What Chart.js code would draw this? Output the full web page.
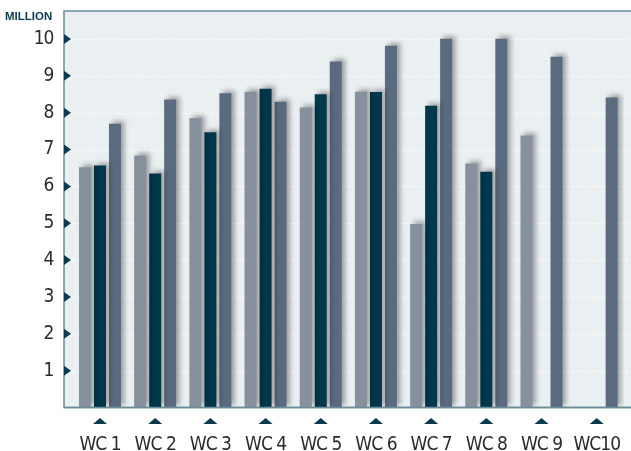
<!DOCTYPE html>
<html>
<head>
<meta charset="utf-8">
<script src="https://cdn.jsdelivr.net/npm/chart.js@4.4.1/dist/chart.umd.min.js"></script>
<style>
  html, body { margin: 0; padding: 0; background: #ffffff; }
  #c { display: block; }
</style>
</head>
<body>
<canvas id="c" width="631" height="451"></canvas>
<script>
const categories = ['WC 1', 'WC 2', 'WC 3', 'WC 4', 'WC 5', 'WC 6', 'WC 7', 'WC 8', 'WC 9', 'WC10'];
const seriesLight = [6.52, 6.84, 7.85, 8.57, 8.14, 8.57, 4.98, 6.62, 7.38, null];
const seriesDark  = [6.57, 6.35, 7.47, 8.65, 8.50, 8.56, 8.19, 6.40, null, null];
const seriesSlate = [7.70, 8.36, 8.53, 8.30, 9.39, 9.82, 10.01, 10.01, 9.52, 8.41];
const yTickValues = [1, 2, 3, 4, 5, 6, 7, 8, 9, 10];
const unitLabel = 'MILLION';

const MARK = '#0b3a4f';
const FRAME = '#6a8c98';
const PANEL = { left: 64, right: 631 };
const TEXT_SPACING = '-1px';

const decor = {
  id: 'decor',
  beforeDraw(chart) {
    chart.ctx.letterSpacing = TEXT_SPACING;
  },
  beforeDatasetsDraw(chart) {
    const ctx = chart.ctx, ca = chart.chartArea, y = chart.scales.y;
    ctx.save();
    ctx.fillStyle = '#eaeff2';
    ctx.fillRect(PANEL.left, ca.top, PANEL.right - PANEL.left, ca.bottom - ca.top);
    ctx.strokeStyle = 'rgba(255,255,255,0.95)';
    ctx.lineWidth = 1.5;
    ctx.setLineDash([1.5, 1.8]);
    y.ticks.forEach((t, i) => {
      const py = Math.round(y.getPixelForTick(i)) + 0.5;
      ctx.beginPath();
      ctx.moveTo(PANEL.left + 7, py);
      ctx.lineTo(PANEL.right - 4, py);
      ctx.stroke();
    });
    ctx.setLineDash([]);
    ctx.strokeStyle = FRAME;
    ctx.lineWidth = 1.5;
    ctx.beginPath();
    ctx.moveTo(PANEL.right, ca.top);
    ctx.lineTo(PANEL.left, ca.top);
    ctx.lineTo(PANEL.left, ca.bottom);
    ctx.lineTo(PANEL.right, ca.bottom);
    ctx.stroke();
    ctx.restore();
    ctx.save();
    ctx.shadowColor = 'rgba(0,0,0,0.33)';
    ctx.shadowBlur = 5;
    ctx.shadowOffsetX = 3.5;
    ctx.shadowOffsetY = -2.5;
  },
  afterDatasetsDraw(chart) {
    const ctx = chart.ctx, ca = chart.chartArea, y = chart.scales.y, x = chart.scales.x;
    ctx.restore();
    ctx.save();
    ctx.strokeStyle = FRAME;
    ctx.lineWidth = 1.5;
    ctx.beginPath();
    ctx.moveTo(PANEL.left, ca.bottom);
    ctx.lineTo(PANEL.right, ca.bottom);
    ctx.stroke();
    ctx.fillStyle = MARK;
    y.ticks.forEach((t, i) => {
      const py = y.getPixelForTick(i);
      ctx.beginPath();
      ctx.moveTo(PANEL.left, py - 5);
      ctx.lineTo(PANEL.left + 7, py);
      ctx.lineTo(PANEL.left, py + 5);
      ctx.closePath();
      ctx.fill();
    });
    x.ticks.forEach((t, i) => {
      const px = x.getPixelForTick(i);
      ctx.beginPath();
      ctx.moveTo(px - 7, ca.bottom + 16.5);
      ctx.lineTo(px, ca.bottom + 10.5);
      ctx.lineTo(px + 7, ca.bottom + 16.5);
      ctx.closePath();
      ctx.fill();
    });
    ctx.letterSpacing = '0px';
    ctx.fillStyle = '#0e3a50';
    ctx.font = 'bold 11.5px "Liberation Sans", Arial, sans-serif';
    ctx.textAlign = 'left';
    ctx.textBaseline = 'alphabetic';
    ctx.fillText(unitLabel, 5, 20);
    ctx.restore();
  }
};

const tickFamily = '"Liberation Sans Narrow", "DejaVu Sans Condensed", "DejaVu Sans", sans-serif';

new Chart(document.getElementById('c'), {
  type: 'bar',
  data: {
    labels: categories,
    datasets: [
      { label: 'Series 1', data: seriesLight, backgroundColor: '#87919d' },
      { label: 'Series 2', data: seriesDark, backgroundColor: '#01374b' },
      { label: 'Series 3', data: seriesSlate, backgroundColor: '#5b6b7f' }
    ]
  },
  options: {
    responsive: false,
    devicePixelRatio: 1,
    animation: false,
    layout: { padding: { left: 0, right: 6.7, top: 11, bottom: 0 } },
    datasets: { bar: { categoryPercentage: 0.815, barPercentage: 0.8 } },
    plugins: { legend: { display: false }, tooltip: { enabled: false }, title: { display: false } },
    scales: {
      x: {
        grid: { display: false, drawTicks: false },
        border: { display: false },
        ticks: { color: '#2b2b2b', font: { family: tickFamily, size: 19 }, padding: 26, maxRotation: 0, minRotation: 0, autoSkip: false },
        afterFit(s) { s.height = 43.5; s.paddingLeft = 0; s.paddingRight = 0; }
      },
      y: {
        min: 0,
        max: 10.76,
        grid: { display: false, drawTicks: false },
        border: { display: false },
        ticks: { color: '#2b2b2b', font: { family: tickFamily, size: 19 }, padding: 19 },
        afterBuildTicks(s) { s.ticks = yTickValues.map(v => ({ value: v })); },
        afterFit(s) { s.width = 72.4; s.paddingTop = 0; s.paddingBottom = 0; }
      }
    }
  },
  plugins: [decor]
});
</script>
</body>
</html>
